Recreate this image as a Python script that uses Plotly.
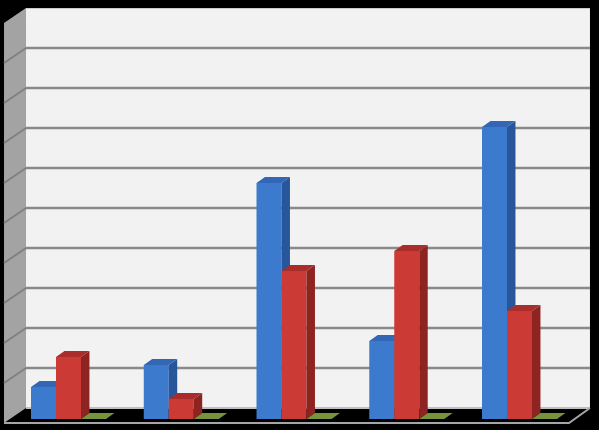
import plotly.graph_objects as go

# ---- data ----
categories = ["Category 1", "Category 2", "Category 3", "Category 4", "Category 5"]
series_names = ["Series 1", "Series 2", "Series 3"]
series1 = [0.8, 1.35, 5.9, 1.95, 7.3]
series2 = [1.55, 0.5, 3.7, 4.2, 2.7]
series3 = [0, 0, 0, 0, 0]
y_ticks = list(range(0, 11))

# ---- style / geometry ----
FRONT = ["#3b7acc", "#cc3a36", "#77933c"]
SIDE = ["#28569a", "#8e2422", "#4f6228"]
TOP = ["#3367b5", "#a92d2a", "#77933c"]
BAR_W = 0.2217          # width of one bar (category units)
DX, DY = 0.075, 0.15    # bar depth offsets (x units, y units)
BASE = -0.275           # front floor line for bars
WALL_X0, WALL_X1 = -0.377, 4.625
WALL_LEFT = -0.572
WALL_DY = 0.375
FLOOR_FRONT_X1 = 4.439
X_RANGE = [-0.5898, 4.643]
Y_RANGE = [-0.45, 10]
GRID_COL = "#898989"

fig = go.Figure()

all_series = [series1, series2, series3]
for j, (name, vals) in enumerate(zip(series_names, all_series)):
    fx, fy, sx, sy, tx, ty = [], [], [], [], [], []
    for i, v in enumerate(vals):
        l = i + (j - 1.5) * BAR_W
        r = l + BAR_W
        top = BASE + v
        fx += [l, r, r, l, l, None]
        fy += [BASE, BASE, top, top, BASE, None]
        sx += [r, r + DX, r + DX, r, r, None]
        sy += [BASE, BASE + DY, top + DY, top, BASE, None]
        tx += [l, l + DX, r + DX, r, l, None]
        ty += [top, top + DY, top + DY, top, top, None]
    for xs, ys, col in ((fx, fy, FRONT[j]), (sx, sy, SIDE[j]), (tx, ty, TOP[j])):
        fig.add_trace(go.Scatter(
            x=xs, y=ys, mode="lines", fill="toself", fillcolor=col,
            line=dict(width=0, color=col), name=name, showlegend=False,
            hoverinfo="skip"))

shapes = []
# back wall
shapes.append(dict(type="rect", xref="x", yref="y", x0=WALL_X0, x1=WALL_X1,
                   y0=0, y1=y_ticks[-1], fillcolor="#f2f2f2", line=dict(width=0),
                   layer="below"))
# left wall
shapes.append(dict(type="path", xref="x", yref="y",
                   path=f"M {WALL_LEFT},{-WALL_DY} L {WALL_X0},0 L {WALL_X0},{y_ticks[-1]} "
                        f"L {WALL_LEFT},{y_ticks[-1] - WALL_DY} Z",
                   fillcolor="#a3a3a3", line=dict(width=0), layer="below"))
# gridlines on back wall and left wall
for k in y_ticks[1:-1]:
    shapes.append(dict(type="line", xref="x", yref="y", x0=WALL_X0, x1=WALL_X1,
                       y0=k, y1=k, line=dict(color=GRID_COL, width=2.5), layer="below"))
    shapes.append(dict(type="line", xref="x", yref="y", x0=WALL_LEFT, x1=WALL_X0,
                       y0=k - WALL_DY, y1=k, line=dict(color="#808080", width=2), layer="below"))
# top edge
shapes.append(dict(type="line", xref="x", yref="y", x0=WALL_X0, x1=WALL_X1,
                   y0=y_ticks[-1], y1=y_ticks[-1], line=dict(color="#bfbfbf", width=1.5),
                   layer="below"))
# floor back edge
shapes.append(dict(type="line", xref="x", yref="y", x0=WALL_X0, x1=WALL_X1,
                   y0=0, y1=0, line=dict(color="#bfbfbf", width=2), layer="below"))
# floor front and right edges
shapes.append(dict(type="path", xref="x", yref="y",
                   path=f"M {WALL_LEFT},{-WALL_DY} L {FLOOR_FRONT_X1},{-WALL_DY} L {WALL_X1},0",
                   line=dict(color="#a6a6a6", width=2), layer="below"))

fig.update_layout(
    width=599, height=430,
    margin=dict(l=2, r=7, t=8, b=4),
    paper_bgcolor="#000000", plot_bgcolor="#000000",
    shapes=shapes, showlegend=False,
    xaxis=dict(range=X_RANGE, showgrid=False, zeroline=False, showticklabels=False,
               showline=False, fixedrange=True),
    yaxis=dict(range=Y_RANGE, showgrid=False, zeroline=False, showticklabels=False,
               showline=False, fixedrange=True),
)

fig.write_html(
    "out.html",
    config={"displayModeBar": False},
    post_script="document.body.style.margin='0';document.body.style.background='#000';",
)
